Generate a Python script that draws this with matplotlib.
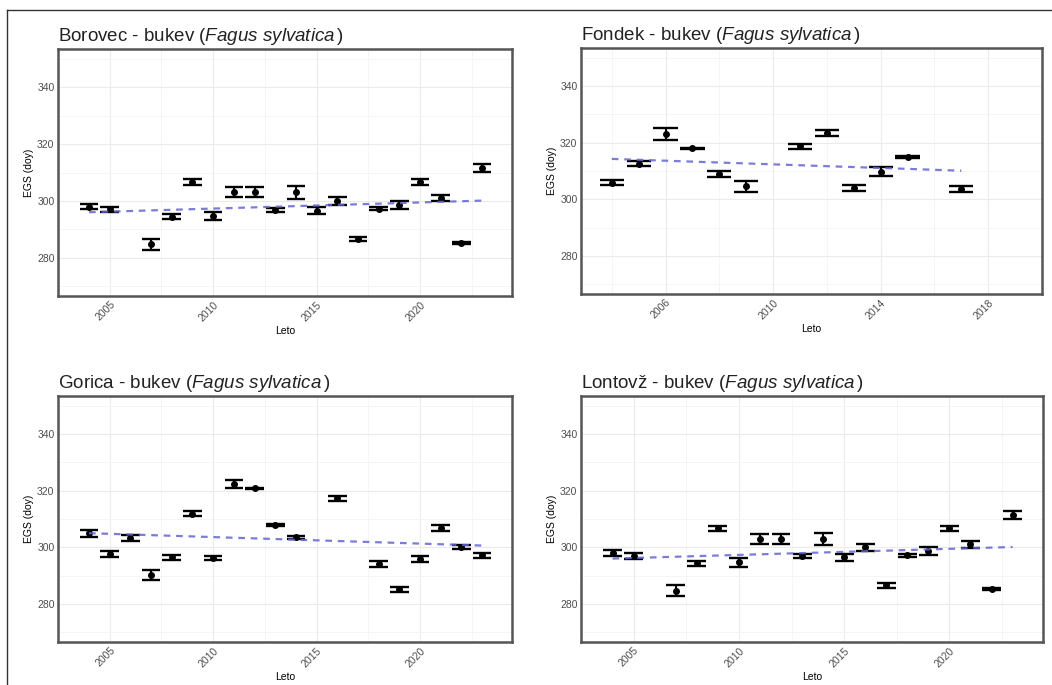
import numpy as np
import matplotlib
matplotlib.use("Agg")
import matplotlib.pyplot as plt
from matplotlib.lines import Line2D

plt.rcParams['font.family'] = ['Liberation Sans', 'DejaVu Sans']
plt.rcParams['mathtext.fontset'] = 'custom'
plt.rcParams['mathtext.rm'] = 'Liberation Sans'
plt.rcParams['mathtext.it'] = 'Liberation Sans:italic'

# Borovec (Lontovž ima enake vrednosti)
borovec_leta = [2004, 2005, 2007, 2008, 2009, 2010, 2011, 2012, 2013, 2014,
                2015, 2016, 2017, 2018, 2019, 2020, 2021, 2022, 2023]
borovec_egs = [298.0, 297.0, 284.7, 294.4, 306.7, 294.7, 303.0, 303.0, 296.8, 303.0,
               296.5, 300.0, 286.5, 297.2, 298.7, 306.7, 301.0, 285.2, 311.5]
borovec_napaka = [1.0, 1.0, 2.0, 0.9, 1.0, 1.5, 1.8, 1.8, 0.7, 2.2,
                  1.2, 1.3, 0.8, 0.5, 1.4, 1.0, 1.2, 0.3, 1.4]

fondek_leta = [2004, 2005, 2006, 2007, 2008, 2009, 2011, 2012, 2013, 2014, 2015, 2017]
fondek_egs = [305.9, 312.6, 323.2, 318.0, 308.9, 304.6, 318.8, 323.4, 304.1, 309.8, 315.0, 303.6]
fondek_napaka = [1.0, 1.0, 2.1, 0.3, 1.0, 2.0, 0.9, 1.0, 1.0, 1.6, 0.3, 1.0]

gorica_leta = [2004, 2005, 2006, 2007, 2008, 2009, 2010, 2011, 2012, 2013,
               2014, 2016, 2018, 2019, 2020, 2021, 2022, 2023]
gorica_egs = [304.9, 297.6, 303.3, 290.1, 296.4, 311.9, 296.2, 322.4, 320.8, 307.9,
              303.6, 317.3, 294.0, 285.2, 295.8, 306.9, 300.1, 297.1]
gorica_napaka = [1.3, 1.2, 1.0, 1.7, 1.0, 1.0, 0.8, 1.4, 0.3, 0.4,
                 0.5, 1.0, 1.0, 0.9, 1.0, 1.0, 0.6, 0.8]

lokacije = ["Borovec", "Fondek", "Gorica", "Lontovž"]
podatki = [
    (borovec_leta, borovec_egs, borovec_napaka),
    (fondek_leta, fondek_egs, fondek_napaka),
    (gorica_leta, gorica_egs, gorica_napaka),
    (borovec_leta, borovec_egs, borovec_napaka),
]
xticks = [
    [2005, 2010, 2015, 2020],
    [2006, 2010, 2014, 2018],
    [2005, 2010, 2015, 2020],
    [2005, 2010, 2015, 2020],
]

W, H = 1052, 685
fig = plt.figure(figsize=(W / 100, H / 100), dpi=100)

# pozicije panelov v pikslih (levo, zgoraj, desno, spodaj)
boxes = [(58, 49, 512, 296), (581, 48, 1042, 294),
         (58, 396, 512, 642), (581, 396, 1043, 642)]

siva = '#4d4d4d'
for i, (ime, (leta, egs, napaka)) in enumerate(zip(lokacije, podatki)):
    l, t, r, b = boxes[i]
    ax = fig.add_axes([l / W, 1 - b / H, (r - l) / W, (b - t) / H])
    leta = np.array(leta)
    egs = np.array(egs)
    napaka = np.array(napaka)
    hw = 0.45

    ax.vlines(leta, egs - napaka, egs + napaka, color='black', lw=1.5, zorder=3)
    ax.hlines(egs - napaka, leta - hw, leta + hw, color='black', lw=1.7, zorder=3)
    ax.hlines(egs + napaka, leta - hw, leta + hw, color='black', lw=1.7, zorder=3)
    ax.plot(leta, egs, 'o', color='black', ms=4, zorder=4)

    # linearni trend
    k, n = np.polyfit(leta, egs, 1)
    xx = np.array([leta.min(), leta.max()])
    ax.plot(xx, k * xx + n, ls=(0, (3, 2.6)), color='#6464d2', lw=1.6, alpha=0.85, zorder=5)

    span = (leta.max() + hw) - (leta.min() - hw)
    ax.set_xlim(leta.min() - hw - 0.05 * span, leta.max() + hw + 0.05 * span)
    ax.set_ylim(266.5, 353.5)
    ax.set_yticks([280, 300, 320, 340])
    ax.set_yticks([270, 290, 310, 330, 350], minor=True)
    xt = xticks[i]
    ax.set_xticks(xt)
    step = xt[1] - xt[0]
    ax.set_xticks([xt[0] - step / 2] + [v + step / 2 for v in xt], minor=True)
    ax.set_xticklabels([str(v) for v in xt], rotation=45, ha='right',
                       rotation_mode='anchor', fontsize=7.5, color=siva)
    ax.tick_params(axis='y', labelsize=7.5, labelcolor=siva)
    ax.tick_params(which='both', length=0, pad=2.5)
    ax.grid(which='major', color='#ebebeb', lw=0.8)
    ax.grid(which='minor', color='#f4f4f4', lw=0.6)
    ax.set_axisbelow(True)
    for s in ax.spines.values():
        s.set_color('#555555')
        s.set_linewidth(1.8)
    ax.set_xlabel('Leto', fontsize=7.5, labelpad=2)
    ax.set_ylabel('EGS (doy)', fontsize=7.5, labelpad=2)
    ax.set_title(ime + r' - bukev ($\it{Fagus\ sylvatica}\,$)', loc='left',
                 fontsize=13.5, pad=6, color='#222222')

# okvir strani
fig.add_artist(Line2D([7 / W, 7 / W], [0, 1 - 10 / H], transform=fig.transFigure,
                      color='#333333', lw=1))
fig.add_artist(Line2D([7 / W, 1], [1 - 10 / H, 1 - 10 / H], transform=fig.transFigure,
                      color='#333333', lw=1))

fig.savefig('out.png', dpi=100)
